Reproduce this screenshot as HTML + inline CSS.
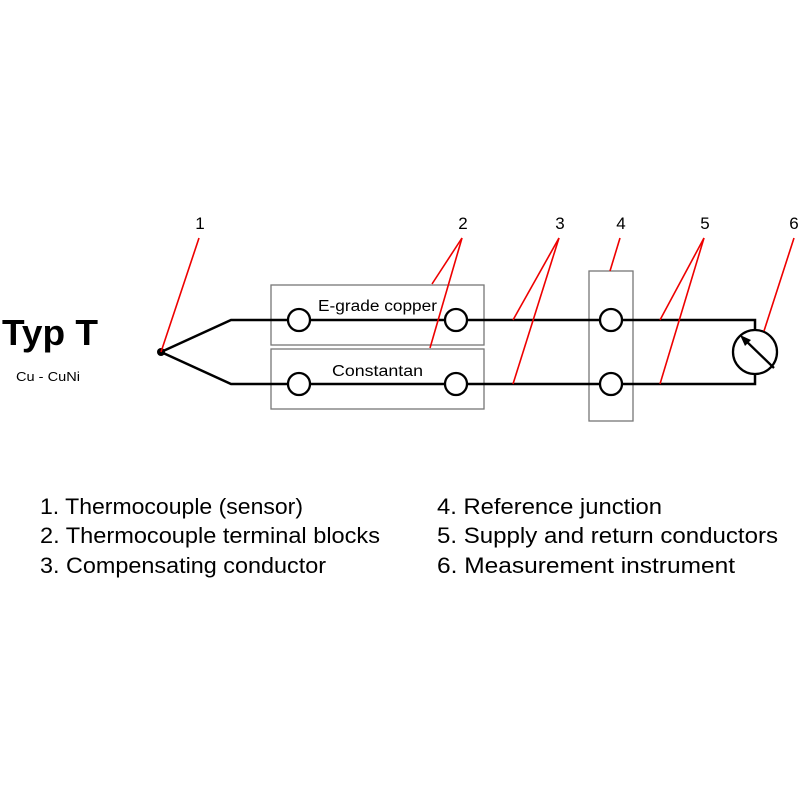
<!DOCTYPE html>
<html><head><style>body{margin:0;background:#fff}</style></head><body>
<svg width="800" height="800" xmlns="http://www.w3.org/2000/svg" font-family="Liberation Sans, sans-serif">
<rect width="800" height="800" fill="#fff"/>
<g fill="none" stroke="#777" stroke-width="1.3">
<rect x="271" y="285" width="213" height="60"/>
<rect x="271" y="349" width="213" height="60"/>
<rect x="589" y="271" width="44" height="150"/>
</g>
<g fill="none" stroke="#000" stroke-width="2.5">
<polyline points="161,352 231,320 755,320 755,330"/>
<polyline points="161,352 231,384 755,384 755,374"/>
</g>
<g fill="#fff" stroke="#000" stroke-width="2.3">
<circle cx="299" cy="320" r="11"/><circle cx="456" cy="320" r="11"/>
<circle cx="299" cy="384" r="11"/><circle cx="456" cy="384" r="11"/>
<circle cx="611" cy="320" r="11"/><circle cx="611" cy="384" r="11"/>
<circle cx="755" cy="352" r="22"/>
</g>
<line x1="774" y1="368" x2="744" y2="339" stroke="#000" stroke-width="2.3"/>
<polygon points="740,335 751,340 745,346" fill="#000"/>
<circle cx="161" cy="352" r="4" fill="#000"/>
<g stroke="#e00" stroke-width="1.6" fill="none">
<line x1="199" y1="238" x2="161" y2="352"/>
<line x1="462" y1="238" x2="432" y2="284"/>
<line x1="462" y1="238" x2="430" y2="348"/>
<line x1="559" y1="238" x2="513" y2="320"/>
<line x1="559" y1="238" x2="513" y2="384"/>
<line x1="620" y1="238" x2="610" y2="271"/>
<line x1="704" y1="238" x2="660" y2="320"/>
<line x1="704" y1="238" x2="660" y2="384"/>
<line x1="794" y1="238" x2="764" y2="331"/>
</g>
<g font-size="17" text-anchor="middle" fill="#000">
<text x="200" y="229">1</text><text x="463" y="229">2</text><text x="560" y="229">3</text>
<text x="621" y="229">4</text><text x="705" y="229">5</text><text x="794" y="229">6</text>
</g>
<g font-size="15.5" fill="#000">
<text x="318" y="311" textLength="119" lengthAdjust="spacingAndGlyphs">E-grade copper</text>
<text x="332" y="376" textLength="91" lengthAdjust="spacingAndGlyphs">Constantan</text>
</g>
<text x="2" y="345" font-size="36" font-weight="bold" textLength="96" lengthAdjust="spacingAndGlyphs">Typ T</text>
<text x="16" y="381" font-size="13" textLength="64" lengthAdjust="spacingAndGlyphs">Cu - CuNi</text>
<g font-size="22" fill="#000">
<text x="40" y="514" textLength="263" lengthAdjust="spacingAndGlyphs">1. Thermocouple (sensor)</text>
<text x="40" y="543" textLength="340" lengthAdjust="spacingAndGlyphs">2. Thermocouple terminal blocks</text>
<text x="40" y="573" textLength="286" lengthAdjust="spacingAndGlyphs">3. Compensating conductor</text>
<text x="437" y="514" textLength="225" lengthAdjust="spacingAndGlyphs">4. Reference junction</text>
<text x="437" y="543" textLength="341" lengthAdjust="spacingAndGlyphs">5. Supply and return conductors</text>
<text x="437" y="573" textLength="298" lengthAdjust="spacingAndGlyphs">6. Measurement instrument</text>
</g>
</svg>
</body></html>
